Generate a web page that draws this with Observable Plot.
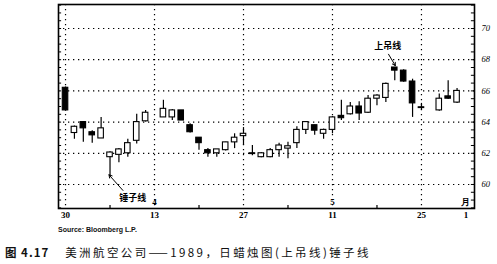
<!DOCTYPE html>
<html><head><meta charset="utf-8">
<script src="https://cdn.jsdelivr.net/npm/d3@7"></script>
<script src="https://cdn.jsdelivr.net/npm/@observablehq/plot@0.6"></script>
<style>
body{margin:0;background:#fff;width:497px;height:264px;overflow:hidden;position:relative;}
#src{position:absolute;left:58px;top:226px;font:bold 7px "Liberation Sans",sans-serif;color:#111;white-space:nowrap;}
#cap{position:absolute;left:5px;top:244px;font:11.5px "Noto Sans CJK SC",sans-serif;color:#111;white-space:nowrap;}
#cap b{letter-spacing:1px;margin-right:16px;}
#cap span{letter-spacing:2.4px;}
</style></head><body>
<div id="chart"></div>
<div id="src">Source: Bloomberg L.P.</div>
<div id="cap"><b>图 4.17</b><span>美洲航空公司——1989，日蜡烛图(上吊线)锤子线</span></div>
<script>
// Trading days (index = position on the x axis)
const dates = ["1989-03-30","1989-03-31","1989-04-03","1989-04-04","1989-04-05","1989-04-06","1989-04-07",
  "1989-04-10","1989-04-11","1989-04-12","1989-04-13","1989-04-14","1989-04-17","1989-04-18","1989-04-19",
  "1989-04-20","1989-04-21","1989-04-24","1989-04-25","1989-04-26","1989-04-27","1989-04-28","1989-05-01",
  "1989-05-02","1989-05-03","1989-05-04","1989-05-05","1989-05-08","1989-05-09","1989-05-10","1989-05-11",
  "1989-05-12","1989-05-15","1989-05-16","1989-05-17","1989-05-18","1989-05-19","1989-05-22","1989-05-23",
  "1989-05-24","1989-05-25","1989-05-26","1989-05-30","1989-05-31","1989-06-01"];
const open  = [66.2,63.3,64.0,63.35,62.95,61.75,61.9,62.0,62.8,64.05,null,64.3,64.3,64.75,63.8,63.0,62.2,62.0,62.2,62.7,63.1,62.0,61.75,61.75,62.2,62.3,62.65,63.5,63.8,63.25,63.5,64.4,64.5,65.0,64.6,65.5,65.55,67.5,67.3,66.6,64.95,null,64.75,65.65,65.25];
const high  = [66.25,63.75,64.0,63.45,64.3,62.1,62.3,62.9,64.5,64.75,null,65.4,64.8,64.75,63.9,63.0,62.3,62.25,62.7,63.25,63.65,62.5,62.05,62.3,62.65,62.7,63.7,64.0,63.8,63.55,64.35,65.4,65.25,65.3,65.7,65.75,66.5,67.5,67.35,66.75,65.2,null,65.8,66.65,66.15];
const low   = [64.7,62.9,62.7,62.65,62.95,60.5,61.4,61.75,62.6,64.0,null,64.3,64.1,64.1,63.3,62.2,61.75,61.75,62.15,62.3,62.5,61.85,61.72,61.72,61.75,61.65,62.3,63.2,63.15,62.9,63.25,64.1,64.45,64.1,64.55,65.05,65.25,66.65,66.55,64.3,64.75,null,64.7,65.45,65.2];
const close = [64.75,63.7,63.6,63.15,63.6,62.05,62.25,62.65,64.0,64.6,null,64.85,64.75,64.1,63.35,62.65,62.0,62.25,62.7,63.0,63.25,61.95,62.0,62.2,62.5,62.45,63.5,64.0,63.45,63.5,64.3,64.25,65.0,64.55,65.5,65.7,66.45,67.3,66.6,65.2,64.9,null,65.5,65.5,66.0];

const xTicks = [0,10,20,30,40,45];
const xTickLabels = ["30","13","27","11","25","1"];
const monthAt = [10,30,45];
const monthLabels = ["4","5","月"];
const yTicks = [60,62,64,66,68,70];
const xGrid = [0,10,20,30,40];
const weekTicks = [5,15,25,35];
const minorY = d3.range(58.5,71.6,0.5);

const notes = [
  {text:"锤子线", tx:7.55, ty:59.15, ax:6.45, ay:59.62, day:5},
  {text:"上吊线", tx:36.2, ty:68.9, ax:36.3, ay:68.35, day:37}
];

const candles = dates.map((d,i)=>({date:d,i,open:open[i],high:high[i],low:low[i],close:close[i]}))
  .filter(d=>d.open!=null);

const xDom = [-0.79,45.96], yDom = [58.46,71.54];
const dots = {stroke:"black", strokeDasharray:"1.3,3.7", strokeWidth:1.2};

const chart = Plot.plot({
  width:497, height:222,
  marginLeft:58, marginRight:23, marginTop:4, marginBottom:14,
  x:{type:"linear", domain:xDom},
  y:{type:"linear", domain:yDom},
  style:{background:"white"},
  marks:[
    Plot.ruleY(yTicks, dots),
    Plot.ruleX(xGrid, dots),
    Plot.ruleY(minorY, {x1:xDom[0], x2:xDom[0]+0.35, stroke:"black", strokeWidth:1}),
    Plot.ruleY(minorY, {x1:xDom[1]-0.35, x2:xDom[1], stroke:"black", strokeWidth:1}),
    Plot.ruleX(weekTicks, {y1:yDom[0], y2:yDom[0]+0.2, stroke:"black", strokeWidth:1.2}),
    Plot.ruleX(candles, {x:"i", y1:"low", y2:"high", stroke:"black", strokeWidth:1.2}),
    Plot.rect(candles, {x1:d=>d.i-0.31, x2:d=>d.i+0.31, y1:"open", y2:"close",
      fill:d=>d.close>=d.open?"white":"black", stroke:"black", strokeWidth:1.1}),
    Plot.frame({stroke:"black", strokeWidth:1.6}),
    Plot.axisY(yTicks, {anchor:"right", tickSize:0, tickPadding:7, fontSize:8.5,
      fontStyle:"italic", fontFamily:"Liberation Serif", label:null}),
    Plot.axisX(xTicks, {anchor:"bottom", tickSize:0, tickPadding:3, fontSize:9, fontWeight:"bold",
      fontFamily:"Liberation Serif", label:null, tickFormat:d=>xTickLabels[xTicks.indexOf(d)]}),
    Plot.text(monthAt, {x:d=>d, y:yDom[0], text:d=>monthLabels[monthAt.indexOf(d)], dy:-6,
      fontSize:9, fontWeight:"bold", fontFamily:"Liberation Serif"}),
    Plot.arrow(notes, {x1:"ax", y1:"ay", x2:d=>candles.find(c=>c.i===d.day).i + (d.day===5?-0.12:0.06),
      y2:d=>d.day===5?candles.find(c=>c.i===d.day).low+0.12:candles.find(c=>c.i===d.day).high+0.12,
      stroke:"black", strokeWidth:1, headLength:5}),
    Plot.text(notes, {x:"tx", y:"ty", text:"text", fontSize:9, fontFamily:"Noto Sans CJK SC",
      fontWeight:"bold", letterSpacing:1})
  ]
});
document.getElementById("chart").appendChild(chart);
</script>
</body></html>
